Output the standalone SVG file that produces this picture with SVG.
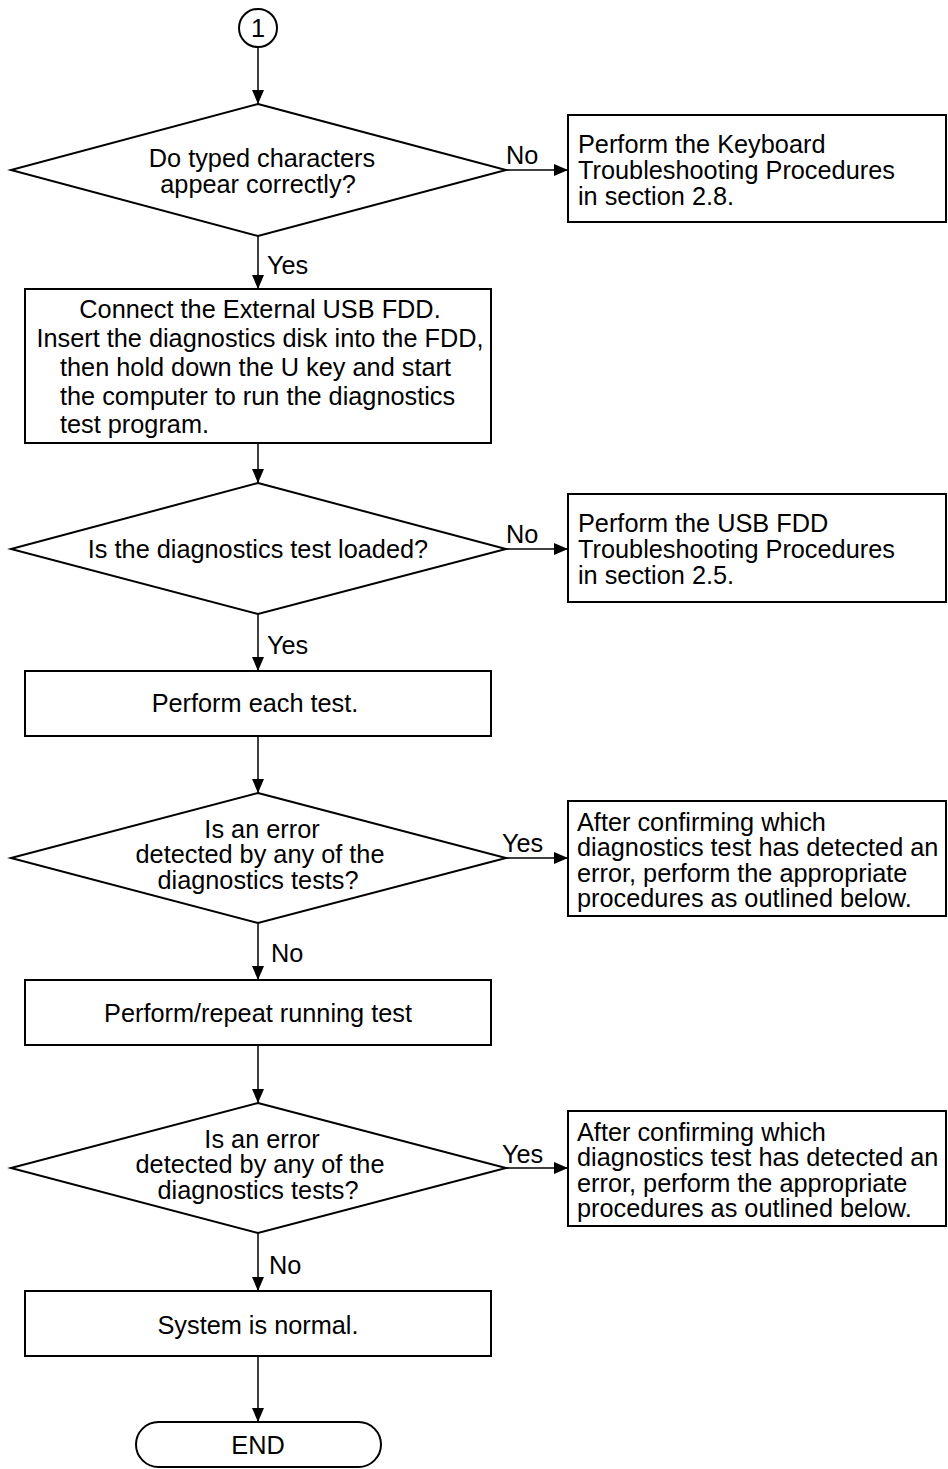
<svg xmlns="http://www.w3.org/2000/svg" width="948" height="1469" viewBox="0 0 948 1469">
<style>
.s{fill:#fff;stroke:#000;stroke-width:2}
.t{font-family:"Liberation Sans",Arial,sans-serif;font-size:25.3px;fill:#000}
.m{text-anchor:middle}
.c{stroke:#000;stroke-width:1.5;fill:none}
</style>
<defs>
<marker id="ad" viewBox="0 0 14 18" markerWidth="14" markerHeight="18" refX="14" refY="9" orient="auto" markerUnits="userSpaceOnUse">
<path d="M0,3 L14,9 L0,15 Z" fill="#000"/>
</marker>
</defs>
<g id="connectors">
<line class="c" x1="258" y1="47" x2="258" y2="104" marker-end="url(#ad)"/>
<line class="c" x1="506" y1="170" x2="568" y2="170" marker-end="url(#ad)"/>
<line class="c" x1="258" y1="236" x2="258" y2="289" marker-end="url(#ad)"/>
<line class="c" x1="258" y1="443" x2="258" y2="483" marker-end="url(#ad)"/>
<line class="c" x1="506" y1="549" x2="568" y2="549" marker-end="url(#ad)"/>
<line class="c" x1="258" y1="614" x2="258" y2="671" marker-end="url(#ad)"/>
<line class="c" x1="258" y1="736" x2="258" y2="793" marker-end="url(#ad)"/>
<line class="c" x1="506" y1="858" x2="568" y2="858" marker-end="url(#ad)"/>
<line class="c" x1="258" y1="923" x2="258" y2="980" marker-end="url(#ad)"/>
<line class="c" x1="258" y1="1045" x2="258" y2="1103" marker-end="url(#ad)"/>
<line class="c" x1="506" y1="1168" x2="568" y2="1168" marker-end="url(#ad)"/>
<line class="c" x1="258" y1="1233" x2="258" y2="1291" marker-end="url(#ad)"/>
<line class="c" x1="258" y1="1356" x2="258" y2="1422" marker-end="url(#ad)"/>
<text class="t" x="506" y="164">No</text>
<text class="t" x="267" y="274">Yes</text>
<text class="t" x="506" y="543">No</text>
<text class="t" x="267" y="654">Yes</text>
<text class="t" x="502" y="852">Yes</text>
<text class="t" x="271" y="962">No</text>
<text class="t" x="502" y="1163">Yes</text>
<text class="t" x="269" y="1274">No</text>
</g>
<g id="start">
<circle class="s" cx="258" cy="28" r="19"/>
<text class="t m" x="258" y="37">1</text>
</g>
<g id="d1">
<polygon class="s" points="258,104 506,170 258,236 11,170"/>
<text class="t m" x="262" y="167">Do typed characters</text>
<text class="t m" x="258" y="193">appear correctly?</text>
</g>
<g id="r1">
<rect class="s" x="568" y="115" width="378" height="107"/>
<text class="t" x="578" y="153">Perform the Keyboard</text>
<text class="t" x="578" y="179">Troubleshooting Procedures</text>
<text class="t" x="578" y="205">in section 2.8.</text>
</g>
<g id="b2">
<rect class="s" x="25" y="289" width="466" height="154"/>
<text class="t m" x="260" y="318">Connect the External USB FDD.</text>
<text class="t m" x="260" y="347">Insert the diagnostics disk into the FDD,</text>
<text class="t" x="60" y="376">then hold down the U key and start</text>
<text class="t" x="60" y="405">the computer to run the diagnostics</text>
<text class="t" x="60" y="433">test program.</text>
</g>
<g id="d2">
<polygon class="s" points="258,483 506,549 258,614 11,549"/>
<text class="t m" x="258" y="558">Is the diagnostics test loaded?</text>
</g>
<g id="r2">
<rect class="s" x="568" y="494" width="378" height="108"/>
<text class="t" x="578" y="532">Perform the USB FDD</text>
<text class="t" x="578" y="558">Troubleshooting Procedures</text>
<text class="t" x="578" y="584">in section 2.5.</text>
</g>
<g id="b3">
<rect class="s" x="25" y="671" width="466" height="65"/>
<text class="t m" x="255" y="712">Perform each test.</text>
</g>
<g id="d3">
<polygon class="s" points="258,793 506,858 258,923 11,858"/>
<text class="t m" x="262" y="838">Is an error</text>
<text class="t m" x="260" y="863">detected by any of the</text>
<text class="t m" x="258" y="889">diagnostics tests?</text>
</g>
<g id="r3">
<rect class="s" x="568" y="801" width="378" height="115"/>
<text class="t" x="577" y="831">After confirming which</text>
<text class="t" x="577" y="856">diagnostics test has detected an</text>
<text class="t" x="577" y="882">error, perform the appropriate</text>
<text class="t" x="577" y="907">procedures as outlined below.</text>
</g>
<g id="b4">
<rect class="s" x="25" y="980" width="466" height="65"/>
<text class="t m" x="258" y="1022">Perform/repeat running test</text>
</g>
<g id="d4">
<polygon class="s" points="258,1103 506,1168 258,1233 11,1168"/>
<text class="t m" x="262" y="1148">Is an error</text>
<text class="t m" x="260" y="1173">detected by any of the</text>
<text class="t m" x="258" y="1199">diagnostics tests?</text>
</g>
<g id="r4">
<rect class="s" x="568" y="1111" width="378" height="115"/>
<text class="t" x="577" y="1141">After confirming which</text>
<text class="t" x="577" y="1166">diagnostics test has detected an</text>
<text class="t" x="577" y="1192">error, perform the appropriate</text>
<text class="t" x="577" y="1217">procedures as outlined below.</text>
</g>
<g id="b5">
<rect class="s" x="25" y="1291" width="466" height="65"/>
<text class="t m" x="258" y="1334">System is normal.</text>
</g>
<g id="end">
<rect class="s" x="136" y="1422" width="245" height="45" rx="22.5"/>
<text class="t m" x="258" y="1454">END</text>
</g>
</svg>
